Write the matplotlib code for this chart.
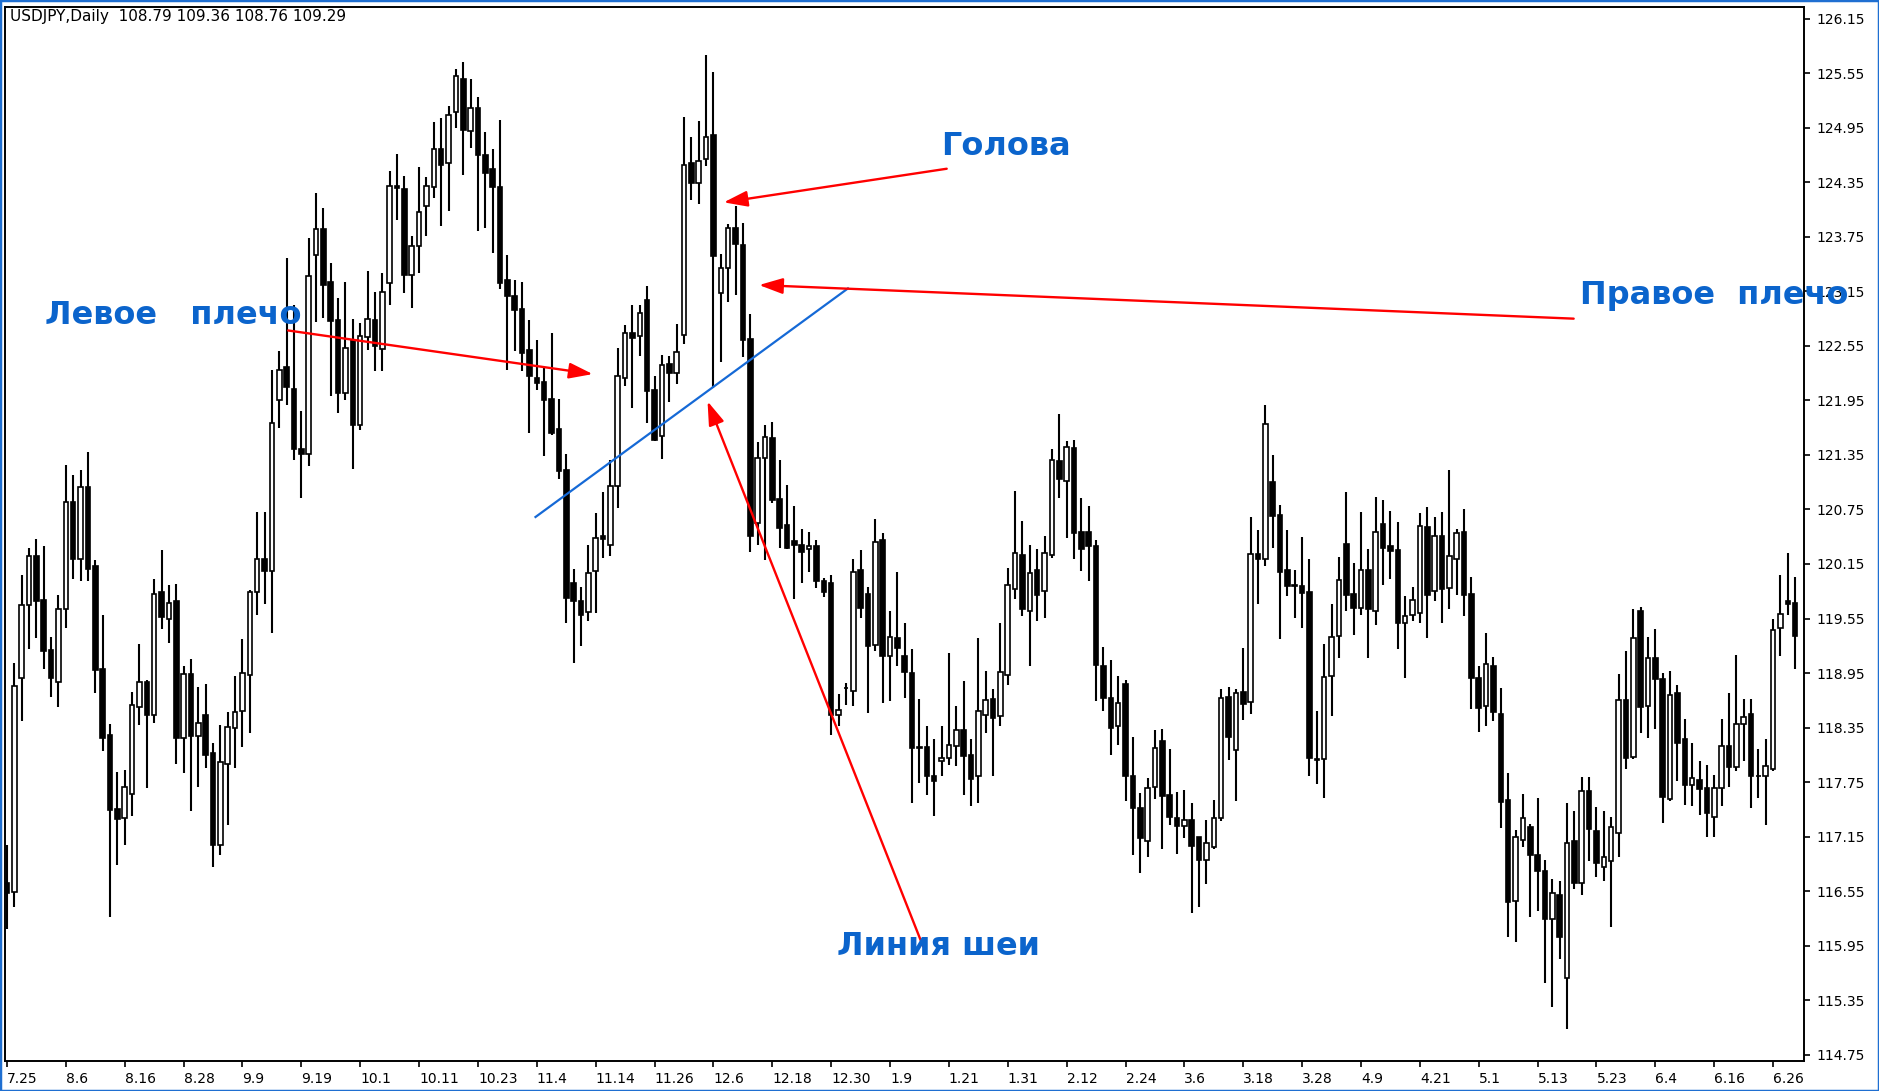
import numpy as np
import matplotlib
matplotlib.use("Agg")
import matplotlib.pyplot as plt
from matplotlib.patches import Rectangle

# ---------------- data ----------------
opens = [116.64,116.54,118.89,119.70,120.24,119.75,119.20,118.85,119.65,120.83,
         120.20,121.00,120.13,118.99,118.27,117.45,117.35,117.62,118.58,118.85,
         118.49,119.84,119.54,119.74,118.24,118.94,118.26,118.49,118.07,117.06,
         117.95,118.35,118.53,118.93,119.84,120.20,120.07,121.95,122.32,122.08,
         121.42,121.36,123.55,123.84,123.25,122.83,122.03,122.61,121.68,122.65,
         122.83,122.52,123.24,124.31,124.28,123.33,123.65,124.09,124.30,124.72,
         124.56,125.12,125.49,124.92,125.17,124.65,124.50,124.30,123.27,123.10,
         122.96,122.50,122.20,122.15,121.97,121.64,121.18,119.94,119.74,119.62,
         120.07,120.46,120.36,121.01,122.20,122.69,122.66,123.05,122.06,121.56,
         122.35,122.25,122.67,124.56,124.34,124.61,124.87,123.13,123.41,123.85,
         123.66,122.63,120.60,121.32,121.54,120.87,120.58,120.40,120.36,120.31,
         120.35,119.96,119.94,118.49,118.78,118.75,120.08,119.82,119.26,120.41,
         119.14,119.33,119.14,118.95,118.14,118.14,117.82,117.98,118.02,118.15,
         118.32,118.05,117.82,118.49,118.66,118.48,118.93,119.88,120.25,119.63,
         120.08,119.85,120.25,121.28,121.06,121.43,120.50,120.50,120.35,119.03,
         118.68,118.37,118.83,117.82,117.46,117.10,117.70,118.20,117.61,117.35,
         117.27,117.33,117.14,116.89,117.03,117.35,118.69,118.10,118.74,118.63,
         120.26,120.21,121.05,120.69,120.08,119.92,119.91,119.84,118.00,118.00,
         118.92,119.36,120.37,119.82,119.67,120.08,119.63,120.59,120.35,120.30,
         119.50,119.59,119.61,120.56,119.85,120.46,119.89,120.20,120.50,119.82,
         118.89,118.59,119.03,118.50,117.55,116.44,117.11,117.25,116.95,116.77,
         116.24,116.51,115.59,117.10,116.64,117.65,117.21,116.82,116.88,117.19,
         118.65,118.03,119.63,118.59,119.12,118.88,117.56,118.73,118.22,117.72,
         117.77,117.69,117.37,117.68,118.15,117.92,118.39,118.50,117.82,117.82,
         117.89,119.44,119.74,119.72]

highs = [117.06,119.06,120.03,120.33,120.43,120.35,119.35,119.81,121.24,121.13,
         121.18,121.38,120.19,119.59,118.39,117.86,117.88,118.74,119.27,118.87,
         119.99,120.30,119.92,119.93,119.03,119.10,118.80,118.83,118.18,118.38,
         118.52,118.92,119.32,119.86,120.72,120.72,122.29,122.49,123.52,123.00,
         121.83,123.74,124.23,124.07,123.46,123.08,123.25,122.85,122.80,123.38,
         123.14,123.35,124.48,124.66,124.42,123.76,124.52,124.41,125.01,125.06,
         125.19,125.60,125.67,125.49,125.29,124.90,124.72,125.04,123.55,123.27,
         123.25,122.83,122.61,122.31,122.69,121.97,121.36,120.10,119.90,120.36,
         120.71,120.94,121.29,122.53,122.78,123.00,123.00,123.21,122.22,122.45,
         122.44,122.79,125.07,124.85,125.03,125.75,125.56,123.56,123.89,124.09,
         123.90,122.90,121.49,121.68,121.71,121.29,121.02,120.79,120.53,120.50,
         120.41,120.00,120.03,118.72,118.84,120.21,120.30,119.90,120.64,120.49,
         119.63,120.06,119.50,119.21,118.66,118.37,118.22,118.37,119.17,118.59,
         118.86,118.22,119.34,118.97,118.77,119.50,120.11,120.95,120.62,120.36,
         120.31,120.46,121.41,121.80,121.50,121.51,120.88,120.79,120.41,119.24,
         119.09,118.92,118.87,118.25,117.63,117.79,118.32,118.33,118.11,117.64,
         117.66,117.52,117.14,117.33,117.55,118.77,118.80,118.77,119.23,120.67,
         120.52,121.90,121.35,120.80,120.52,120.08,120.45,120.21,118.53,119.27,
         119.71,120.23,120.94,120.16,120.72,120.32,120.89,120.85,120.73,120.61,
         119.80,119.90,120.71,120.78,120.67,120.72,121.18,120.54,120.76,120.01,
         119.03,119.39,119.13,118.79,117.85,117.22,117.62,117.29,117.58,116.89,
         116.68,116.66,117.52,117.43,117.81,117.81,117.48,117.43,117.36,118.94,
         119.19,119.66,119.68,119.35,119.43,118.95,118.97,118.82,118.44,118.18,
         117.98,117.94,117.83,118.44,118.73,119.15,118.66,118.66,118.11,118.22,
         119.54,120.03,120.27,120.01]

lows = [116.13,116.37,118.42,119.21,119.34,118.99,118.69,118.58,119.45,119.98,
        119.96,119.96,118.73,118.09,116.26,116.84,117.06,117.38,118.38,117.69,
        118.40,119.43,119.28,117.95,117.85,117.43,117.70,117.90,116.82,116.95,
        117.28,117.90,118.14,118.29,119.59,119.71,119.39,121.65,121.90,121.29,
        120.88,121.23,122.81,122.86,122.00,121.81,121.96,121.19,121.63,122.51,
        122.27,122.27,123.00,123.94,123.13,122.97,123.35,123.76,124.18,123.87,
        124.03,124.95,124.43,124.73,123.81,123.85,123.57,123.18,122.29,122.49,
        122.27,121.59,122.07,121.34,121.57,121.08,119.50,119.06,119.25,119.52,
        119.61,120.22,120.24,120.77,122.11,121.87,122.44,121.70,121.50,121.30,
        121.93,122.13,122.57,124.16,124.11,124.53,122.09,122.37,123.03,123.11,
        122.43,120.28,120.36,120.19,120.82,120.33,120.31,119.77,119.94,120.06,
        119.89,119.79,118.27,118.37,118.60,118.59,119.56,118.51,119.19,118.62,
        118.64,119.03,118.68,117.52,117.74,117.61,117.38,117.82,117.94,117.93,
        117.61,117.49,117.52,118.29,117.82,118.37,118.82,119.76,119.58,119.03,
        119.52,119.56,120.22,120.88,120.44,120.20,120.07,119.96,118.64,118.53,
        118.05,118.16,117.54,116.95,116.75,116.92,117.56,117.01,117.28,116.96,
        117.13,116.31,116.37,116.63,117.01,117.32,117.99,117.54,118.43,118.50,
        119.71,120.13,120.33,119.32,119.80,119.56,119.44,117.82,117.73,117.58,
        118.48,119.12,119.63,119.37,119.59,119.12,119.48,119.92,119.98,119.21,
        118.90,119.52,119.50,119.34,119.74,119.50,119.65,119.81,119.58,118.55,
        118.30,118.37,118.42,117.24,116.04,115.99,117.04,116.27,116.33,115.54,
        115.27,115.80,115.03,116.57,116.51,116.88,116.70,116.66,116.16,116.92,
        117.89,118.00,118.29,118.24,118.33,117.30,117.54,117.76,117.50,117.49,
        117.39,117.14,117.14,117.49,117.70,117.87,117.98,117.46,117.58,117.28,
        117.87,119.14,119.59,118.99]

closes = [116.53,118.81,119.70,120.24,119.74,119.19,118.90,119.66,120.83,120.20,
          121.00,120.09,118.98,118.24,117.44,117.34,117.70,118.60,118.85,118.49,
          119.82,119.57,119.72,118.24,118.94,118.26,118.40,118.05,117.06,117.97,
          118.36,118.52,118.95,119.84,120.20,120.07,121.70,122.29,122.10,121.41,
          121.36,123.32,123.84,123.22,122.82,122.03,122.53,121.68,122.66,122.85,
          122.55,123.14,124.31,124.29,123.33,123.65,124.02,124.31,124.72,124.54,
          125.09,125.52,124.93,125.17,124.65,124.45,124.30,123.24,123.10,122.95,
          122.47,122.22,122.14,121.96,121.59,121.17,119.78,119.74,119.59,120.05,
          120.44,120.43,121.01,122.22,122.69,122.64,122.91,122.05,121.52,122.34,
          122.25,122.48,124.54,124.34,124.58,124.85,123.54,123.41,123.85,123.67,
          122.62,120.46,121.32,121.55,120.85,120.55,120.33,120.36,120.28,120.35,
          119.96,119.84,118.49,118.54,118.79,120.06,119.67,119.25,120.39,119.14,
          119.35,119.22,118.96,118.13,118.13,117.82,117.76,118.02,118.16,118.32,
          118.04,117.78,118.53,118.65,118.46,118.96,119.92,120.27,119.65,120.05,
          119.81,120.27,121.29,121.08,121.44,120.49,120.31,120.35,119.04,118.68,
          118.35,118.62,117.82,117.46,117.13,117.68,118.12,117.60,117.36,117.27,
          117.33,117.05,116.89,117.08,117.35,118.67,118.25,118.73,118.61,120.26,
          120.21,121.69,120.68,120.06,119.91,119.91,119.83,118.02,117.99,118.91,
          119.35,119.97,119.81,119.67,120.08,119.65,120.50,120.33,120.29,119.50,
          119.58,119.75,120.57,119.81,120.46,119.87,120.24,120.49,119.81,118.90,
          118.57,119.05,118.52,117.53,116.43,117.14,117.35,116.95,116.77,116.24,
          116.53,116.04,117.08,116.64,117.65,117.23,116.86,116.92,117.26,118.65,
          118.02,119.33,118.58,119.11,118.88,117.59,118.71,118.18,117.72,117.79,
          117.67,117.41,117.69,118.15,117.92,118.39,118.47,117.82,117.82,117.93,
          119.42,119.60,119.71,119.36]

date_labels = ["7.25", "8.6", "8.16", "8.28", "9.9", "9.19", "10.1", "10.11",
               "10.23", "11.4", "11.14", "11.26", "12.6", "12.18", "12.30", "1.9",
               "1.21", "1.31", "2.12", "2.24", "3.6", "3.18", "3.28", "4.9",
               "4.21", "5.1", "5.13", "5.23", "6.4", "6.16", "6.26"]
label_step = 8

price_ticks = [126.15, 125.55, 124.95, 124.35, 123.75, 123.15, 122.55, 121.95,
               121.35, 120.75, 120.15, 119.55, 118.95, 118.35, 117.75, 117.15,
               116.55, 115.95, 115.35, 114.75]

header = "USDJPY,Daily  108.79 109.36 108.76 109.29"

# annotation anchors in data coordinates (bar index, price)
neckline = [(71.7, 120.66), (114.4, 123.19)]
arrows = [((38.2, 122.72), (79.6, 122.24)),
          ((127.7, 124.50), (97.4, 124.13)),
          ((212.9, 122.85), (102.2, 123.22)),
          ((124.5, 115.94), (95.2, 121.94))]
labels = [("Левое   плечо", 5.1, 122.89),
          ("Голова", 126.9, 124.74),
          ("Правое  плечо", 213.8, 123.10),
          ("Линия шеи", 112.8, 115.94)]

# ---------------- figure ----------------
W, H = 1879, 1091
fig = plt.figure(figsize=(W / 100, H / 100), dpi=100)
fig.patch.set_facecolor("white")

ax = fig.add_axes([5 / W, 1 - 1061 / H, (1804 - 5) / W, (1061 - 7) / H])
ax.set_facecolor("white")

o = np.array(opens); h = np.array(highs); l = np.array(lows); c = np.array(closes)
x = np.arange(len(o))

ax.vlines(x, l, h, color="black", linewidth=1.5, zorder=2)
up = c >= o
bottoms = np.minimum(o, c)
heights = np.abs(c - o)
ax.bar(x[up], heights[up], bottom=bottoms[up], width=0.62, color="white",
       edgecolor="black", linewidth=1.2, zorder=3)
ax.bar(x[~up], heights[~up], bottom=bottoms[~up], width=0.62, color="black",
       edgecolor="black", linewidth=1.2, zorder=3)

ax.set_xlim(-0.27, 244.2)
ax.set_ylim(114.68, 126.28)

# axes styling
for s in ax.spines.values():
    s.set_color("black")
    s.set_linewidth(1.4)

ax.yaxis.tick_right()
ax.set_yticks(price_ticks)
ax.set_yticklabels([f"{p:.2f}" for p in price_ticks], fontsize=10,
                   family="DejaVu Sans")
ax.tick_params(axis="y", direction="out", length=4, width=1.2, pad=5,
               colors="black")

xt = [i * label_step for i in range(len(date_labels))]
ax.set_xticks(xt)
ax.set_xticklabels(date_labels, fontsize=10, family="DejaVu Sans")
for t in ax.get_xticklabels():
    t.set_horizontalalignment("left")
ax.tick_params(axis="x", direction="out", length=4, width=1.2, pad=4,
               colors="black")

# neckline
ax.plot([p[0] for p in neckline], [p[1] for p in neckline], color="#1569d6",
        linewidth=1.6, zorder=4, solid_capstyle="butt")

# arrows
for (sx, sy), (ex, ey) in arrows:
    ax.annotate("", xy=(ex, ey), xytext=(sx, sy),
                arrowprops=dict(arrowstyle="-|>,head_length=0.9,head_width=0.3",
                                color="#ff0000", lw=1.7, mutation_scale=16,
                                shrinkA=0, shrinkB=0),
                zorder=5)

# blue labels
for txt, tx, ty in labels:
    ax.text(tx, ty, txt, color="#0b64cc", fontsize=23, fontweight="bold",
            family="DejaVu Sans", ha="left", va="center", zorder=6,
            clip_on=False)

# header
fig.text(10 / W, 1 - 17 / H, header, fontsize=11, family="DejaVu Sans",
         ha="left", va="center", color="black")

# thin blue frame of the screenshot
fig.patches.append(Rectangle((0, 0), 1, 1, transform=fig.transFigure,
                             fill=False, edgecolor="#1f6fd1", linewidth=2.5,
                             zorder=10))

fig.savefig("out.png", dpi=100, facecolor="white")
